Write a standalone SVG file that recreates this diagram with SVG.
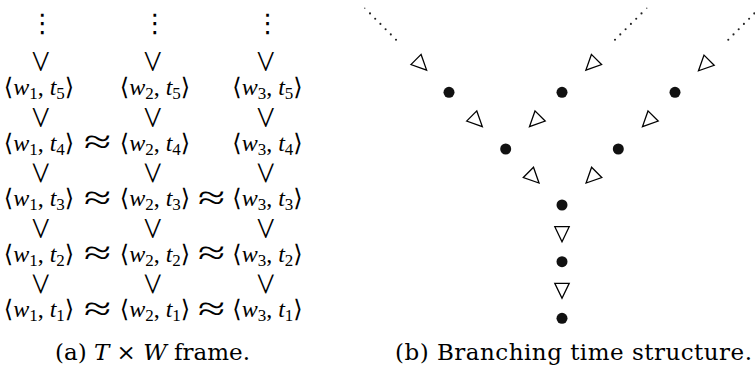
<svg xmlns="http://www.w3.org/2000/svg" xmlns:xlink="http://www.w3.org/1999/xlink" width="755" height="377" viewBox="0 0 755 377">
  <style>
    .m { font-family: "Liberation Serif", "DejaVu Serif", serif; font-size: 24px; fill: #000; }
    .it { font-style: italic; }
    .sub { font-size: 17px; }
    .lt { font-family: "Liberation Serif", "DejaVu Serif", serif; font-size: 41px; fill: #000; }
    .ap { font-family: "Liberation Serif", "DejaVu Serif", serif; font-size: 34px; fill: #000; }
    .vd { font-family: "DejaVu Sans", sans-serif; font-size: 26px; fill: #000; }
    .cap { font-family: "DejaVu Serif", "Liberation Serif", serif; font-size: 23px; fill: #000; }
    .pt { fill: #111; }
    .dd { fill: #222; }
  </style>
  <defs>
    <polygon id="tri" points="-7.2,-6.5 7.2,-6.5 0,8.5" fill="#fff" stroke="#000" stroke-width="1.3"/>
    <!-- "<" turned to point downwards: later time above earlier time -->
    <text id="gt" class="lt" text-anchor="middle" dominant-baseline="central" transform="rotate(-90) scale(1,0.8)">&lt;</text>
    <!-- accessibility relation between worlds at the same time -->
    <text id="ap" class="ap" text-anchor="middle" transform="scale(1.45,1)">≈</text>
  </defs>

  <!-- (a) T x W frame: world/time pairs -->
  <g id="pairs">
    <g id="w1t5"><text class="m" x="39" y="95" text-anchor="middle">⟨<tspan class="it">w</tspan><tspan class="sub" dy="4">1</tspan><tspan dy="-4">, </tspan><tspan class="it">t</tspan><tspan class="sub" dy="4">5</tspan><tspan dy="-4">⟩</tspan></text></g>
    <g id="w2t5"><text class="m" x="155" y="95" text-anchor="middle">⟨<tspan class="it">w</tspan><tspan class="sub" dy="4">2</tspan><tspan dy="-4">, </tspan><tspan class="it">t</tspan><tspan class="sub" dy="4">5</tspan><tspan dy="-4">⟩</tspan></text></g>
    <g id="w3t5"><text class="m" x="267.5" y="95" text-anchor="middle">⟨<tspan class="it">w</tspan><tspan class="sub" dy="4">3</tspan><tspan dy="-4">, </tspan><tspan class="it">t</tspan><tspan class="sub" dy="4">5</tspan><tspan dy="-4">⟩</tspan></text></g>

    <g id="w1t4"><text class="m" x="39" y="150.5" text-anchor="middle">⟨<tspan class="it">w</tspan><tspan class="sub" dy="4">1</tspan><tspan dy="-4">, </tspan><tspan class="it">t</tspan><tspan class="sub" dy="4">4</tspan><tspan dy="-4">⟩</tspan></text></g>
    <g id="w2t4"><text class="m" x="155" y="150.5" text-anchor="middle">⟨<tspan class="it">w</tspan><tspan class="sub" dy="4">2</tspan><tspan dy="-4">, </tspan><tspan class="it">t</tspan><tspan class="sub" dy="4">4</tspan><tspan dy="-4">⟩</tspan></text></g>
    <g id="w3t4"><text class="m" x="267.5" y="150.5" text-anchor="middle">⟨<tspan class="it">w</tspan><tspan class="sub" dy="4">3</tspan><tspan dy="-4">, </tspan><tspan class="it">t</tspan><tspan class="sub" dy="4">4</tspan><tspan dy="-4">⟩</tspan></text></g>

    <g id="w1t3"><text class="m" x="39" y="206" text-anchor="middle">⟨<tspan class="it">w</tspan><tspan class="sub" dy="4">1</tspan><tspan dy="-4">, </tspan><tspan class="it">t</tspan><tspan class="sub" dy="4">3</tspan><tspan dy="-4">⟩</tspan></text></g>
    <g id="w2t3"><text class="m" x="155" y="206" text-anchor="middle">⟨<tspan class="it">w</tspan><tspan class="sub" dy="4">2</tspan><tspan dy="-4">, </tspan><tspan class="it">t</tspan><tspan class="sub" dy="4">3</tspan><tspan dy="-4">⟩</tspan></text></g>
    <g id="w3t3"><text class="m" x="267.5" y="206" text-anchor="middle">⟨<tspan class="it">w</tspan><tspan class="sub" dy="4">3</tspan><tspan dy="-4">, </tspan><tspan class="it">t</tspan><tspan class="sub" dy="4">3</tspan><tspan dy="-4">⟩</tspan></text></g>

    <g id="w1t2"><text class="m" x="39" y="261.5" text-anchor="middle">⟨<tspan class="it">w</tspan><tspan class="sub" dy="4">1</tspan><tspan dy="-4">, </tspan><tspan class="it">t</tspan><tspan class="sub" dy="4">2</tspan><tspan dy="-4">⟩</tspan></text></g>
    <g id="w2t2"><text class="m" x="155" y="261.5" text-anchor="middle">⟨<tspan class="it">w</tspan><tspan class="sub" dy="4">2</tspan><tspan dy="-4">, </tspan><tspan class="it">t</tspan><tspan class="sub" dy="4">2</tspan><tspan dy="-4">⟩</tspan></text></g>
    <g id="w3t2"><text class="m" x="267.5" y="261.5" text-anchor="middle">⟨<tspan class="it">w</tspan><tspan class="sub" dy="4">3</tspan><tspan dy="-4">, </tspan><tspan class="it">t</tspan><tspan class="sub" dy="4">2</tspan><tspan dy="-4">⟩</tspan></text></g>

    <g id="w1t1"><text class="m" x="39" y="317" text-anchor="middle">⟨<tspan class="it">w</tspan><tspan class="sub" dy="4">1</tspan><tspan dy="-4">, </tspan><tspan class="it">t</tspan><tspan class="sub" dy="4">1</tspan><tspan dy="-4">⟩</tspan></text></g>
    <g id="w2t1"><text class="m" x="155" y="317" text-anchor="middle">⟨<tspan class="it">w</tspan><tspan class="sub" dy="4">2</tspan><tspan dy="-4">, </tspan><tspan class="it">t</tspan><tspan class="sub" dy="4">1</tspan><tspan dy="-4">⟩</tspan></text></g>
    <g id="w3t1"><text class="m" x="267.5" y="317" text-anchor="middle">⟨<tspan class="it">w</tspan><tspan class="sub" dy="4">3</tspan><tspan dy="-4">, </tspan><tspan class="it">t</tspan><tspan class="sub" dy="4">1</tspan><tspan dy="-4">⟩</tspan></text></g>
  </g>

  <!-- (a) relations: time order and accessibility -->
  <g id="frame-relations">
    <text class="vd" x="42.5" y="32" text-anchor="middle">⋮</text>
    <text class="vd" x="155" y="32" text-anchor="middle">⋮</text>
    <text class="vd" x="267.7" y="32" text-anchor="middle">⋮</text>

    <use xlink:href="#gt" transform="translate(40.5,61.5)"/>
    <use xlink:href="#gt" transform="translate(152.8,61.5)"/>
    <use xlink:href="#gt" transform="translate(265.8,61.5)"/>
    <use xlink:href="#gt" transform="translate(40.5,117.5)"/>
    <use xlink:href="#gt" transform="translate(152.8,117.5)"/>
    <use xlink:href="#gt" transform="translate(265.8,117.5)"/>
    <use xlink:href="#gt" transform="translate(40.5,173)"/>
    <use xlink:href="#gt" transform="translate(152.8,173)"/>
    <use xlink:href="#gt" transform="translate(265.8,173)"/>
    <use xlink:href="#gt" transform="translate(40.5,228.5)"/>
    <use xlink:href="#gt" transform="translate(152.8,228.5)"/>
    <use xlink:href="#gt" transform="translate(265.8,228.5)"/>
    <use xlink:href="#gt" transform="translate(40.5,284)"/>
    <use xlink:href="#gt" transform="translate(152.8,284)"/>
    <use xlink:href="#gt" transform="translate(265.8,284)"/>

    <use xlink:href="#ap" transform="translate(97.5,153)"/>
    <use xlink:href="#ap" transform="translate(97.5,208.5)"/>
    <use xlink:href="#ap" transform="translate(211.5,208.5)"/>
    <use xlink:href="#ap" transform="translate(97.5,264)"/>
    <use xlink:href="#ap" transform="translate(211.5,264)"/>
    <use xlink:href="#ap" transform="translate(97.5,319.5)"/>
    <use xlink:href="#ap" transform="translate(211.5,319.5)"/>
  </g>

  <!-- (b) branching time: moments -->
  <g id="moments">
    <g id="m0"><circle class="pt" cx="562" cy="318.3" r="5.5"/></g>
    <g id="m1"><circle class="pt" cx="562" cy="261.7" r="5.5"/></g>
    <g id="m2"><circle class="pt" cx="562" cy="205" r="5.5"/></g>
    <g id="m3l"><circle class="pt" cx="505.7" cy="149" r="5.5"/></g>
    <g id="m3r"><circle class="pt" cx="618.3" cy="149" r="5.5"/></g>
    <g id="m4a"><circle class="pt" cx="449" cy="92.3" r="5.5"/></g>
    <g id="m4b"><circle class="pt" cx="562" cy="92.3" r="5.5"/></g>
    <g id="m4c"><circle class="pt" cx="675" cy="92.3" r="5.5"/></g>
  </g>

  <!-- (b) branching time: successor edges, triangles pointing to the past -->
  <g id="edges">
    <use xlink:href="#tri" transform="translate(562,289.8)"/>
    <use xlink:href="#tri" transform="translate(562,233.2)"/>
    <use xlink:href="#tri" transform="translate(533,177) rotate(-45)"/>
    <use xlink:href="#tri" transform="translate(592.1,177) rotate(45)"/>
    <use xlink:href="#tri" transform="translate(476.3,120.6) rotate(-45)"/>
    <use xlink:href="#tri" transform="translate(535.5,120.6) rotate(45)"/>
    <use xlink:href="#tri" transform="translate(648.5,120.6) rotate(45)"/>
    <use xlink:href="#tri" transform="translate(420.6,64.1) rotate(-45)"/>
    <use xlink:href="#tri" transform="translate(591.9,64.1) rotate(45)"/>
    <use xlink:href="#tri" transform="translate(704.5,64.8) rotate(45)"/>

    <!-- open-ended futures -->
    <g class="dd">
      <circle cx="396" cy="39.7" r="1.05"/><circle cx="390.8" cy="34.4" r="1.05"/><circle cx="385.6" cy="29.2" r="1.05"/>
      <circle cx="380.4" cy="23.9" r="1.05"/><circle cx="375.2" cy="18.7" r="1.05"/><circle cx="370" cy="13.4" r="1.05"/>
      <circle cx="364.8" cy="8.2" r="0.6"/>
      <circle cx="615" cy="39.7" r="1.05"/><circle cx="620.3" cy="34.4" r="1.05"/><circle cx="625.6" cy="29.2" r="1.05"/>
      <circle cx="630.9" cy="23.9" r="1.05"/><circle cx="636.2" cy="18.7" r="1.05"/><circle cx="641.5" cy="13.4" r="1.05"/>
      <circle cx="646.8" cy="8.2" r="0.6"/>
      <circle cx="728.3" cy="39.7" r="1.05"/><circle cx="733.5" cy="34.4" r="1.05"/><circle cx="738.7" cy="29.2" r="1.05"/>
      <circle cx="743.9" cy="23.9" r="1.05"/><circle cx="749.1" cy="18.7" r="1.05"/><circle cx="754.3" cy="13.4" r="1.05"/>
    </g>
  </g>

  <!-- captions -->
  <text class="cap" x="152.5" y="360" text-anchor="middle" textLength="195" lengthAdjust="spacing">(a) <tspan font-style="italic">T</tspan> × <tspan font-style="italic">W</tspan> frame.</text>
  <text class="cap" x="573.5" y="360" text-anchor="middle" textLength="357" lengthAdjust="spacing">(b) Branching time structure.</text>
</svg>
